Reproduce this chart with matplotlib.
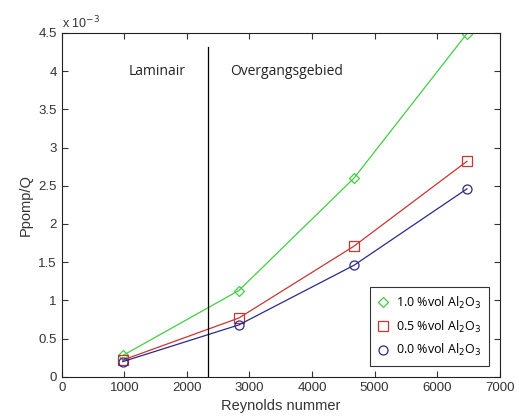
import matplotlib.pyplot as plt

# data (Ppomp/Q in units of 1e-3)
reynolds = [975, 2830, 4670, 6475]
p_10 = [0.28, 1.13, 2.60, 4.49]
p_05 = [0.22, 0.77, 1.71, 2.82]
p_00 = [0.20, 0.68, 1.46, 2.46]
labels = ['1.0 %vol Al$_2$O$_3$', '0.5 %vol Al$_2$O$_3$', '0.0 %vol Al$_2$O$_3$']
re_transition = 2335

plt.rcParams['font.family'] = ['Liberation Sans', 'DejaVu Sans']

fig = plt.figure(figsize=(5.19, 4.16), dpi=100)
ax = fig.add_axes([0.119, 0.094, 0.844, 0.827])

ax.plot(reynolds, p_10, '-', color='#44cc44', lw=0.9, marker='D', ms=5.5,
        mfc='none', mec='#44cc44', mew=0.9, label=labels[0])
ax.plot(reynolds, p_05, '-', color='#cc3333', lw=0.9, marker='s', ms=7,
        mfc='none', mec='#cc3333', mew=0.9, label=labels[1])
ax.plot(reynolds, p_00, '-', color='#2a2a8a', lw=0.9, marker='o', ms=6.5,
        mfc='none', mec='#2a2a8a', mew=0.9, label=labels[2])

ax.plot([re_transition, re_transition], [0, 4.31], color='black', lw=0.9)

ax.text(1070, 4.0, 'Laminair', fontsize=10, family=['Open Sans', 'DejaVu Sans'],
        va='center', color='#222222')
ax.text(2690, 4.0, 'Overgangsgebied', fontsize=10, family=['Open Sans', 'DejaVu Sans'],
        va='center', color='#222222')

ax.set_xlim(0, 7000)
ax.set_ylim(0, 4.5)
ax.set_xticks(range(0, 7001, 1000))
ax.set_yticks([0, 0.5, 1, 1.5, 2, 2.5, 3, 3.5, 4, 4.5])
ax.set_yticklabels(['0', '0.5', '1', '1.5', '2', '2.5', '3', '3.5', '4', '4.5'])
ax.tick_params(direction='in', top=True, right=True, labelsize=9.5,
               colors='#333333', length=4)
for s in ax.spines.values():
    s.set_linewidth(0.8)
    s.set_color('#222222')

ax.text(0.0, 1.005, 'x 10$^{-3}$', transform=ax.transAxes, fontsize=9,
        ha='left', va='bottom', color='#333333')

ax.set_xlabel('Reynolds nummer', fontsize=10.5, color='#333333', labelpad=4)
ax.set_ylabel('Ppomp/Q', fontsize=10.5, color='#333333', labelpad=4)

leg = ax.legend(loc='lower right', frameon=True, fancybox=False,
                prop={'family': ['Open Sans', 'DejaVu Sans'], 'size': 9},
                edgecolor='black', borderaxespad=0.9, handlelength=0.9,
                handletextpad=0.6, labelspacing=0.6, borderpad=0.6)
for line in leg.get_lines():
    line.set_linestyle('none')
leg.get_frame().set_linewidth(0.8)

fig.savefig('out.png', dpi=100)
